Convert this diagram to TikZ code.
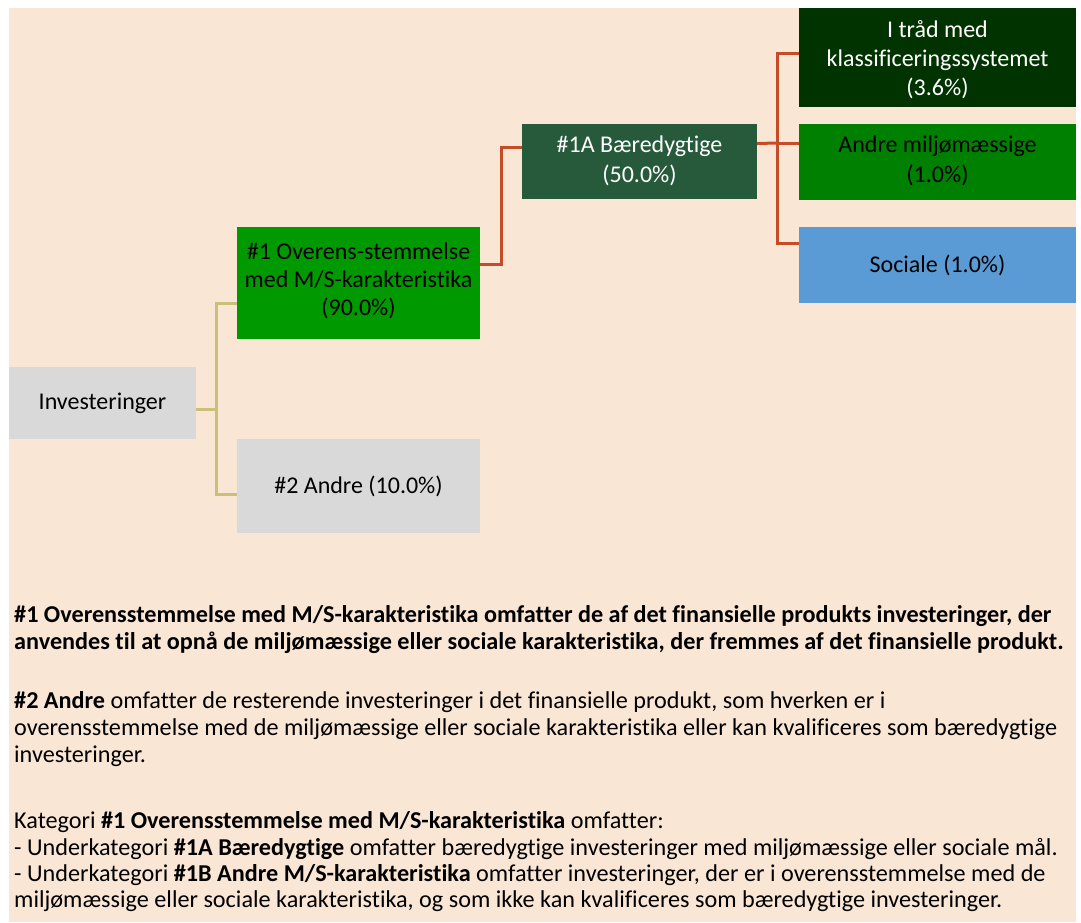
\documentclass[tikz,border=0pt]{standalone}
\usepackage{fontspec}
\setmainfont{Carlito}[Ligatures=NoCommon]
\definecolor{bgpeach}{HTML}{FAE6D4}
\definecolor{boxgray}{HTML}{D9D9D9}
\definecolor{greenA}{HTML}{009900}
\definecolor{greenB}{HTML}{008000}
\definecolor{darkgreen}{HTML}{265A3B}
\definecolor{deepgreen}{HTML}{003300}
\definecolor{skyblue}{HTML}{5B9BD5}
\definecolor{olive}{HTML}{C9C07A}
\definecolor{rust}{HTML}{C64B29}
\tikzset{
  catbox/.style={rectangle, inner sep=0pt, align=center, font=\fontsize{24}{29}\selectfont},
  olivelink/.style={draw=olive, line width=3pt},
  rustlink/.style={draw=rust, line width=3pt},
  para/.style={anchor=base west, inner sep=0pt, font=\fontsize{24.2}{27}\selectfont}
}
\begin{document}
\begin{tikzpicture}[x=1pt,y=-1pt]
\useasboundingbox (0,0) rectangle (1081,922);
\fill[bgpeach] (9,8) rectangle (1076,922);

\node[catbox, fill=boxgray, minimum width=187pt, minimum height=72pt] (inv) at (102.5,403) {Investeringer};
\node[catbox, fill=greenA, minimum width=243pt, minimum height=112pt] (b1) at (358.5,283) {\raisebox{1pt}[\height][\depth]{\begin{tabular}{@{}c@{}}\#1 Overens-stemmelse\\[-1pt] med M/S-karakteristika\\[-1pt] (90.0\%)\end{tabular}}};
\node[catbox, fill=boxgray, minimum width=243pt, minimum height=94pt] (b2) at (358.5,486) {\#2 Andre (10.0\%)};
\node[catbox, fill=darkgreen, text=white, minimum width=235pt, minimum height=75pt] (b1a) at (639.5,161.5) {\begin{tabular}{@{}c@{}}\#1A Bæredygtige\\[1pt] (50.0\%)\end{tabular}};
\node[catbox, fill=deepgreen, text=white, minimum width=277pt, minimum height=99pt] (t1) at (937.5,57.5) {\raisebox{-3pt}[\height][\depth]{\begin{tabular}{@{}c@{}}I tråd med\\[0pt] klassificeringssystemet\\[0pt] (3.6\%)\end{tabular}}};
\node[catbox, fill=greenB, minimum width=277pt, minimum height=76pt] (t2) at (937.5,162) {\begin{tabular}{@{}c@{}}Andre miljømæssige\\[1pt] (1.0\%)\end{tabular}};
\node[catbox, fill=skyblue, minimum width=277pt, minimum height=76pt] (t3) at (937.5,265) {Sociale (1.0\%)};

% olive connectors
\coordinate (ot) at (216,409);
\draw[olivelink] ([yshift=-6pt]inv.east) -- (ot);
\draw[olivelink] ([yshift=-20pt]b1.west) -| (ot);
\draw[olivelink] ([yshift=-8pt]b2.west) -| (ot);

% rust connectors
\draw[rustlink] ([yshift=19pt]b1.east) -- (501,264) -- (501,147) -- ([yshift=14.5pt]b1a.west);
\coordinate (rt) at (777,143);
\draw[rustlink] ([yshift=18pt]b1a.east) -- (rt);
\draw[rustlink] ([yshift=4.5pt]t1.west) -| (rt);
\draw[rustlink] ([yshift=19pt]t2.west) -| (rt);
\draw[rustlink] ([yshift=22pt]t3.west) -| (rt);

% paragraph text
\node[para] (p1) at (14,622) {\textbf{\#1 Overensstemmelse med M/S-karakteristika omfatter de af det finansielle produkts investeringer, der}};
\node[para] (p2) at (14,649) {\textbf{anvendes til at opnå de miljømæssige eller sociale karakteristika, der fremmes af det finansielle produkt.}};
\node[para] (p3) at (14,708) {\textbf{\#2 Andre} omfatter de resterende investeringer i det finansielle produkt, som hverken er i};
\node[para] (p4) at (14,735) {overensstemmelse med de miljømæssige eller sociale karakteristika eller kan kvalificeres som bæredygtige};
\node[para] (p5) at (14,762) {investeringer.};
\node[para] (p6) at (14,828) {Kategori \textbf{\#1 Overensstemmelse med M/S-karakteristika} omfatter:};
\node[para] (p7) at (14,855) {- Underkategori \textbf{\#1A Bæredygtige} omfatter bæredygtige investeringer med miljømæssige eller sociale mål.};
\node[para] (p8) at (14,881) {- Underkategori \textbf{\#1B Andre M/S-karakteristika} omfatter investeringer, der er i overensstemmelse med de};
\node[para] (p9) at (14,907) {miljømæssige eller sociale karakteristika, og som ikke kan kvalificeres som bæredygtige investeringer.};
\end{tikzpicture}
\end{document}
